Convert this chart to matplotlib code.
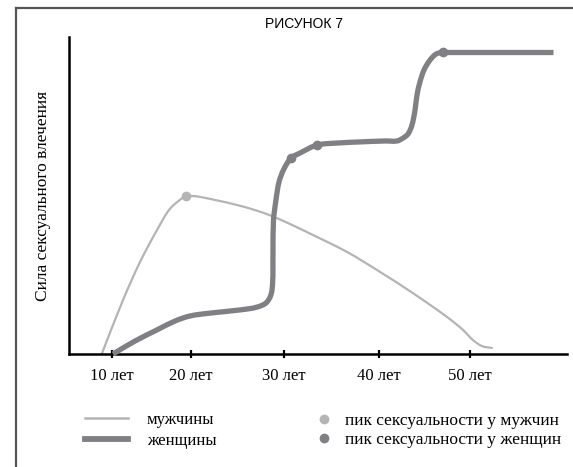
import matplotlib
matplotlib.use("Agg")
import matplotlib.pyplot as plt
from matplotlib.lines import Line2D
from matplotlib.path import Path
from matplotlib.patches import PathPatch
import numpy as np

# ---------------- data ----------------
tick_ages = [10, 18.78, 29.11, 39.67, 49.78]
tick_labels = ["10 лет", "20 лет", "30 лет", "40 лет", "50 лет"]

# men: rising part up to the peak, then the declining part
men_rise_age = [8.86, 11.22, 13.11, 15.0, 16.44, 18.1]
men_rise_val = [0.0, 17.0, 29.0, 39.1, 45.8, 49.9]
men_fall_age = [18.22, 19.22, 21.44, 23.89, 25.89, 27.78, 29.78, 32.0, 36.11,
                39.78, 43.44, 47.22, 49.0, 50.11, 51.11, 52.22]
men_fall_val = [49.8, 49.8, 48.6, 47.0, 45.4, 43.5, 41.0, 38.0, 32.2,
                25.9, 19.2, 11.7, 7.6, 4.4, 2.5, 1.9]
men_peak_age = [18.22]
men_peak_val = [49.8]

# women: rising part up to the last peak, then a flat plateau
women_age = [10.11, 12.56, 15.0, 17.0, 18.67, 20.89, 24.22, 26.11, 27.22,
             27.78, 27.89, 27.94, 28.22, 28.56, 29.11, 29.89, 30.89,
             32.78, 35.33, 37.56, 40.33, 41.67, 42.33, 42.89, 43.33, 43.67, 43.89,
             44.22, 44.67, 45.33, 46.0, 46.78]
women_val = [0.0, 4.1, 7.6, 10.4, 12.0, 12.9, 13.9, 14.8, 16.4,
             20.2, 32.8, 42.0, 48.6, 54.3, 58.4, 61.8, 63.4,
             65.9, 66.6, 66.9, 67.2, 67.2, 68.1, 69.4, 72.2, 76.9, 81.7,
             85.8, 89.6, 92.7, 94.6, 95.3]
women_plateau_age = [46.78, 59.0]
women_plateau_val = [95.3, 95.3]
women_peak_age = [29.89, 32.78, 46.78]
women_peak_val = [61.8, 65.9, 95.3]

title = "РИСУНОК 7"
ylabel = "Сила сексуального влечения"
legend_lines = ["мужчины", "женщины"]
legend_dots = ["пик сексуальности у мужчин", "пик сексуальности у женщин"]

# ---------------- style ----------------
MEN = "#b4b4b6"
WOMEN = "#808084"
SERIF = ["Liberation Serif", "DejaVu Serif"]
SANS = ["Liberation Sans", "DejaVu Sans"]

W, H = 573, 467
fig = plt.figure(figsize=(W / 100, H / 100), dpi=100)


def fx(px):
    return px / W


def fy(py):
    return 1 - py / H


def smooth_path(xs, ys, sx=9.0, sy=3.17):
    """Bezier path through the given points (tangents from neighbours)."""
    P = np.column_stack([np.asarray(xs) * sx, np.asarray(ys) * sy])
    n = len(P)
    T = np.zeros_like(P)
    for i in range(n):
        a = P[max(i - 1, 0)]
        b = P[min(i + 1, n - 1)]
        v = b - a
        nv = np.hypot(*v)
        T[i] = v / nv if nv > 0 else 0
    verts = [P[0]]
    codes = [Path.MOVETO]
    for i in range(n - 1):
        d = np.hypot(*(P[i + 1] - P[i]))
        verts += [P[i] + T[i] * d / 3, P[i + 1] - T[i + 1] * d / 3, P[i + 1]]
        codes += [Path.CURVE4] * 3
    V = np.array(verts)
    V[:, 0] /= sx
    V[:, 1] /= sy
    return Path(V, codes)


# page frame (left and top border)
fig.add_artist(Line2D([fx(16), fx(16)], [fy(8), 0], color="#555555", lw=1.6))
fig.add_artist(Line2D([fx(16), 1], [fy(8), fy(8)], color="#555555", lw=1.6))

ax = fig.add_axes([fx(69), fy(354), fx(567) - fx(69), fy(37) - fy(354)])
ax.set_xlim(5.22, 60.56)
ax.set_ylim(0, 100)

for xs, ys in [(men_rise_age, men_rise_val), (men_fall_age, men_fall_val)]:
    p = PathPatch(smooth_path(xs, ys), fill=False, edgecolor=MEN, lw=1.6,
                  capstyle="round", joinstyle="round", zorder=2,
                  transform=ax.transData, clip_on=False)
    ax.add_patch(p)
p = PathPatch(smooth_path(women_age, women_val), fill=False, edgecolor=WOMEN,
              lw=3.8, capstyle="butt", joinstyle="round", zorder=3,
              transform=ax.transData, clip_on=False)
ax.add_patch(p)
ax.plot(women_plateau_age, women_plateau_val, color=WOMEN, lw=3.8,
        solid_capstyle="butt", zorder=3, clip_on=False)

ax.plot(men_peak_age, men_peak_val, "o", color=MEN, ms=7, mec="none", zorder=4)
ax.plot(women_peak_age, women_peak_val, "o", color=WOMEN, ms=7, mec="none", zorder=4)

for s in ["top", "right"]:
    ax.spines[s].set_visible(False)
for s in ["left", "bottom"]:
    ax.spines[s].set_linewidth(1.8)
    ax.spines[s].set_color("black")
ax.set_yticks([])
ax.set_xticks(tick_ages)
ax.set_xticklabels(tick_labels, fontfamily=SERIF, fontsize=12)
ax.tick_params(axis="x", direction="inout", length=6, width=1.6, pad=7)

ax.set_ylabel(ylabel, fontfamily=SERIF, fontsize=12.5, labelpad=13)
fig.text(fx(304), fy(24), title, ha="center", va="center",
         fontfamily=SANS, fontsize=10)

h1 = [Line2D([], [], color=MEN, lw=1.8), Line2D([], [], color=WOMEN, lw=4.2)]
leg1 = fig.legend(h1, legend_lines, loc="center left",
                  bbox_to_anchor=(fx(85), fy(430.5)), frameon=False,
                  prop={"family": SERIF, "size": 12}, handlelength=2.6,
                  handletextpad=1.1, labelspacing=0.3, borderpad=0,
                  borderaxespad=0)
h2 = [Line2D([], [], ls="none", marker="o", color=MEN, ms=7, mec="none"),
      Line2D([], [], ls="none", marker="o", color=WOMEN, ms=7, mec="none")]
leg2 = fig.legend(h2, legend_dots, loc="center left",
                  bbox_to_anchor=(fx(315), fy(430.5)), frameon=False,
                  prop={"family": SERIF, "size": 12.5}, handlelength=1.0,
                  handletextpad=0.75, labelspacing=0.2, borderpad=0,
                  borderaxespad=0)

fig.savefig("out.png", dpi=100)
